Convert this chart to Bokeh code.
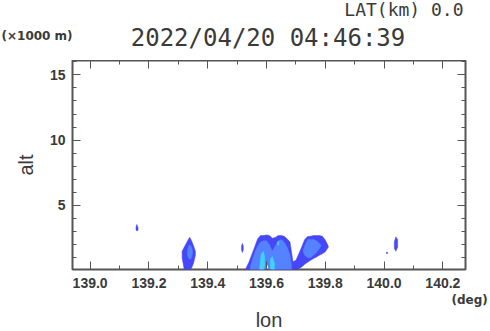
import numpy as np
from bokeh.plotting import figure
from bokeh.layouts import column
from bokeh.models import Range1d, LinearAxis, FixedTicker, Label
from bokeh.embed import file_html
from bokeh.resources import INLINE

# ---------------- data ----------------
title_text = "2022/04/20 04:46:39"
lat_text = "LAT(km) 0.0"
x_unit_text = "(deg)"
y_unit_text = "(\u00d71000 m)"
x_title = "lon"
y_title = "alt"

x_ticks = [139.0, 139.2, 139.4, 139.6, 139.8, 140.0, 140.2]
x_tick_labels = ["139.0", "139.2", "139.4", "139.6", "139.8", "140.0", "140.2"]
x_minor = [139.1, 139.3, 139.5, 139.7, 139.9, 140.1]
y_ticks = [5, 10, 15]
y_tick_labels = ["5", "10", "15"]
y_minor = [1, 2, 3, 4, 6, 7, 8, 9, 11, 12, 13, 14, 16]

# echo cells: lon, bottom altitude, top altitude (km) per level
# level 1 (weakest)
speck_lon = [139.156, 139.159, 139.163]
speck_bot = [3.15, 3.05, 3.12]
speck_top = [3.35, 3.55, 3.30]

a1_lon = [139.313, 139.320, 139.327, 139.334, 139.339, 139.345, 139.352, 139.358]
a1_bot = [1.00, 0.10, 0.10, 0.10, 0.10, 0.20, 0.60, 1.20]
a1_top = [1.50, 1.80, 2.10, 2.40, 2.57, 2.30, 1.90, 1.50]

sl_lon = [139.515, 139.518, 139.521]
sl_bot = [1.60, 1.40, 1.60]
sl_top = [1.90, 2.10, 1.90]

b1_lon = [139.530, 139.540, 139.550, 139.560, 139.570, 139.580, 139.590, 139.595,
          139.600, 139.610, 139.620, 139.630, 139.640, 139.650, 139.660, 139.670,
          139.680, 139.690, 139.700, 139.710, 139.720, 139.730, 139.740, 139.750,
          139.760, 139.770, 139.780, 139.790, 139.800, 139.810]
b1_bot = [0.10, 0.10, 0.10, 0.10, 0.10, 0.10, 0.10, 0.10,
          0.70, 0.10, 0.10, 0.10, 0.10, 0.10, 0.10, 0.10,
          0.10, 0.10, 0.10, 0.15, 0.30, 0.50, 0.65, 0.80,
          0.95, 1.05, 1.20, 1.30, 1.45, 1.80]
b1_top = [0.20, 0.65, 1.25, 1.85, 2.45, 2.70, 2.70, 2.72,
          2.75, 2.70, 2.50, 2.55, 2.70, 2.70, 2.65, 2.45,
          2.20, 0.70, 0.80, 1.30, 1.85, 2.40, 2.62, 2.65,
          2.70, 2.70, 2.70, 2.65, 2.35, 1.90]

c1_lon = [140.035, 140.040, 140.046]
c1_bot = [1.70, 1.50, 1.80]
c1_top = [2.20, 2.60, 2.40]

d1_lon = [140.008, 140.012]
d1_bot = [1.32, 1.32]
d1_top = [1.42, 1.42]

# level 2
a2_lon = [139.331, 139.337, 139.343, 139.348]
a2_bot = [1.20, 0.90, 0.90, 1.30]
a2_top = [1.60, 2.00, 1.90, 1.60]

b2l_lon = [139.545, 139.550, 139.560, 139.570, 139.580, 139.590, 139.595, 139.600,
           139.610, 139.620, 139.630, 139.640, 139.650, 139.660, 139.670, 139.680, 139.685]
b2l_bot = [0.10, 0.10, 0.10, 0.10, 0.10, 0.10, 0.10, 0.75,
           0.10, 0.10, 0.10, 0.10, 0.10, 0.10, 0.10, 0.10, 0.10]
b2l_top = [0.30, 0.70, 1.40, 1.90, 2.20, 2.30, 2.30, 2.30,
           2.00, 1.50, 1.90, 2.30, 2.40, 2.20, 1.80, 1.20, 0.40]

b2r_lon = [139.725, 139.730, 139.740, 139.750, 139.760, 139.770, 139.780, 139.785]
b2r_bot = [1.50, 1.20, 1.00, 1.00, 1.20, 1.40, 1.70, 1.90]
b2r_top = [1.60, 1.90, 2.40, 2.40, 2.40, 2.30, 2.10, 1.95]

# level 3 (strongest)
b3a_lon = [139.577, 139.582, 139.590, 139.594]
b3a_bot = [0.10, 0.10, 0.10, 0.40]
b3a_top = [0.30, 1.30, 1.50, 1.00]

b3b_lon = [139.613, 139.620, 139.627]
b3b_bot = [0.15, 0.10, 0.10]
b3b_top = [0.90, 1.10, 0.60]

b3c_lon = [139.637, 139.642]
b3c_bot = [2.00, 1.95]
b3c_top = [2.20, 2.25]

level_colors = ["#4646fa", "#5583ff", "#40d2ff"]

levels = [
    [(speck_lon, speck_bot, speck_top), (a1_lon, a1_bot, a1_top), (sl_lon, sl_bot, sl_top),
     (b1_lon, b1_bot, b1_top), (c1_lon, c1_bot, c1_top), (d1_lon, d1_bot, d1_top)],
    [(a2_lon, a2_bot, a2_top), (b2l_lon, b2l_bot, b2l_top), (b2r_lon, b2r_bot, b2r_top)],
    [(b3a_lon, b3a_bot, b3a_top), (b3b_lon, b3b_bot, b3b_top), (b3c_lon, b3c_bot, b3c_top)],
]

text_color = "#3a3a3a"
tick_color = "#555555"


def no_align(fig):
    try:
        fig.frame_align = False
    except Exception:
        pass


def strip(height):
    f = figure(width=490, height=height, output_backend="svg", toolbar_location=None,
               x_range=Range1d(0, 490), y_range=Range1d(0, height),
               x_axis_type=None, y_axis_type=None,
               min_border_left=0, min_border_right=0, min_border_top=0, min_border_bottom=0)
    no_align(f)
    f.xgrid.visible = False
    f.ygrid.visible = False
    f.outline_line_color = None
    return f


# ---------------- header strip ----------------
TOP_H = 60
top = strip(TOP_H)
top.add_layout(Label(x=463, y=51, text=lat_text, text_font="DejaVu Sans Mono",
                     text_font_size="18px", text_align="right", text_baseline="alphabetic",
                     text_color=text_color))
top.add_layout(Label(x=267.5, y=22.5, text=title_text, text_font="DejaVu Sans Mono",
                     text_font_size="24px", text_align="center", text_baseline="alphabetic",
                     text_color=text_color))
top.add_layout(Label(x=1, y=25, text=y_unit_text, text_font="DejaVu Sans",
                     text_font_style="bold", text_font_size="12px", text_align="left",
                     text_baseline="alphabetic", text_color=text_color))

# ---------------- main plot ----------------
MAIN_H = 233
p = figure(width=490, height=MAIN_H, output_backend="svg", toolbar_location=None,
           x_range=Range1d(138.94, 140.277), y_range=Range1d(0.1, 16.1),
           x_axis_type=None, y_axis_type=None,
           min_border_left=72, min_border_right=25, min_border_top=0, min_border_bottom=24)
no_align(p)
p.xgrid.visible = False
p.ygrid.visible = False
p.background_fill_color = "white"
p.border_fill_color = "white"
p.outline_line_color = "#555555"
p.outline_line_width = 2

for color, segs in zip(level_colors, levels):
    xs, ys = [], []
    for lon, bot_, top_ in segs:
        xs.append(list(lon) + list(lon)[::-1])
        ys.append(list(top_) + list(bot_)[::-1])
    p.patches(xs, ys, fill_color=color, line_color=color, line_width=0.5)


def style_axis(ax, show_labels):
    ax.axis_line_color = None
    ax.major_tick_in = 8
    ax.major_tick_out = 0
    ax.minor_tick_in = 4
    ax.minor_tick_out = 0
    ax.major_tick_line_color = tick_color
    ax.minor_tick_line_color = tick_color
    if show_labels:
        ax.major_label_text_font = "Liberation Sans"
        ax.major_label_text_font_style = "bold"
        ax.major_label_text_font_size = "14px"
        ax.major_label_text_color = text_color
        ax.major_label_standoff = 8
    else:
        ax.major_label_text_font_size = "1px"
        ax.major_label_text_color = None
        ax.major_label_standoff = 0


xb = LinearAxis(ticker=FixedTicker(ticks=x_ticks, minor_ticks=x_minor),
                major_label_overrides=dict(zip(x_ticks, x_tick_labels)))
style_axis(xb, True)
p.add_layout(xb, "below")
xt = LinearAxis(ticker=FixedTicker(ticks=x_ticks, minor_ticks=x_minor))
style_axis(xt, False)
p.add_layout(xt, "above")

yl = LinearAxis(ticker=FixedTicker(ticks=y_ticks, minor_ticks=y_minor),
                major_label_overrides=dict(zip(y_ticks, y_tick_labels)),
                axis_label=y_title)
style_axis(yl, True)
yl.major_label_standoff = 7
yl.axis_label_text_font = "Liberation Sans"
yl.axis_label_text_font_size = "20px"
yl.axis_label_text_font_style = "normal"
yl.axis_label_text_color = text_color
yl.axis_label_standoff = 10
p.add_layout(yl, "left")
yr = LinearAxis(ticker=FixedTicker(ticks=y_ticks, minor_ticks=y_minor))
style_axis(yr, False)
p.add_layout(yr, "right")

# ---------------- footer strip ----------------
BOT_H = 331 - TOP_H - MAIN_H
bot = strip(BOT_H)
bot.add_layout(Label(x=451, y=32, text=x_unit_text, text_font="DejaVu Sans",
                     text_font_style="bold", text_font_size="12px", text_align="left",
                     text_baseline="alphabetic", text_color=text_color))
bot.add_layout(Label(x=268.5, y=12, text=x_title, text_font="Liberation Sans",
                     text_font_size="20px", text_align="center", text_baseline="alphabetic",
                     text_color=text_color))

layout = column(top, p, bot, spacing=0)
open("out.html", "w").write(file_html(layout, INLINE))
